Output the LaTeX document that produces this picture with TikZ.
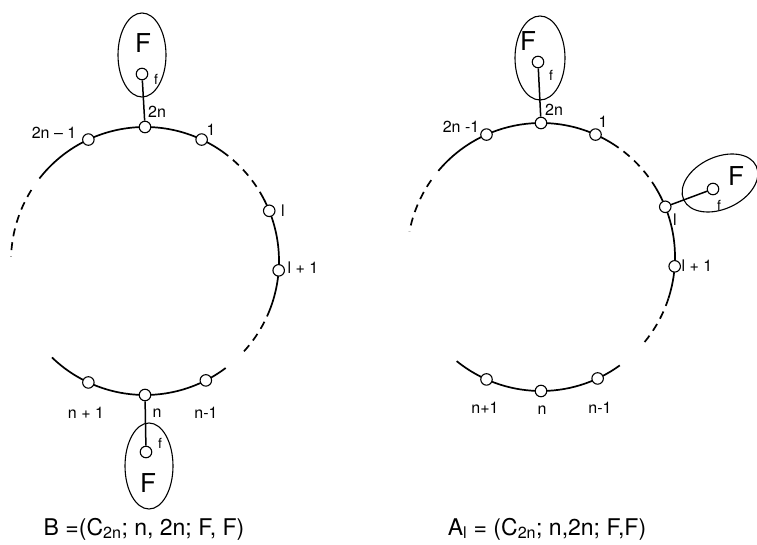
\documentclass[tikz,border=0pt]{standalone}
\usepackage{fontspec}
\setmainfont{TeX Gyre Heros}
\usetikzlibrary{shapes.geometric}
\tikzset{
  ring/.style={line width=1.7pt},
  dring/.style={line width=1.7pt, dash pattern=on 8pt off 6pt},
  vtx/.style={circle, draw, fill=white, line width=1.1pt, minimum size=11.5pt, inner sep=0pt},
  link/.style={line width=1.5pt},
  blob/.style={ellipse, draw, line width=1.1pt, inner sep=0pt},
  lab/.style={font=\fontsize{16}{18}\selectfont, inner sep=0pt},
  bigF/.style={font=\fontsize{26}{28}\selectfont, inner sep=0pt},
  smallf/.style={font=\fontsize{14}{16}\selectfont, inner sep=0pt},
  capt/.style={font=\fontsize{23}{25}\selectfont, inner sep=0pt}
}
\begin{document}
\begin{tikzpicture}[x=1pt,y=-1pt]
\useasboundingbox[fill=white] (0,0) rectangle (757,545);
% ===== left diagram =====
\coordinate (CL) at (145,261);
\draw[ring] ([shift={(-142:134)}]CL) arc[start angle=-142, end angle=-55, radius=134];
\draw[dring] ([shift={(-55:134)}]CL) arc[start angle=-55, end angle=-31, radius=134];
\draw[ring] ([shift={(-31:134)}]CL) arc[start angle=-31, end angle=21, radius=134];
\draw[dring] ([shift={(21:134)}]CL) arc[start angle=21, end angle=43, radius=134];
\draw[ring] ([shift={(53:134)}]CL) arc[start angle=53, end angle=134, radius=134];
\draw[dring] ([shift={(-148:134)}]CL) arc[start angle=-148, end angle=-178, radius=134];
\node[blob, minimum width=48pt, minimum height=84pt] (LtopE) at (142,55) {};
\node[blob, minimum width=48pt, minimum height=86pt] (LbotE) at (149,466) {};
\node[vtx] (L2n) at ([shift={(-90:134)}]CL) {};
\node[vtx] (L1) at ([shift={(-65:134)}]CL) {};
\node[vtx] (L2nm) at ([shift={(-115:134)}]CL) {};
\node[vtx] (Ll) at ([shift={(-22:134)}]CL) {};
\node[vtx] (Llp) at ([shift={(4:134)}]CL) {};
\node[vtx] (Ln) at ([shift={(90:134)}]CL) {};
\node[vtx] (Lnp) at ([shift={(115:134)}]CL) {};
\node[vtx] (Lnm) at ([shift={(63:134)}]CL) {};
\node[vtx] (Ltf) at (142,74) {};
\node[vtx] (Lbf) at (146,452) {};
\draw[link] (Ltf) -- (L2n);
\draw[link] (Lbf) -- (Ln);
\node[bigF] (LtF) at (143,43) {F};
\node[smallf] (Ltfl) at (156,79) {f};
\node[lab] (L2nl) at (157,112) {2n};
\node[lab] (L2nml) at (54,133) {2n – 1};
\node[lab] (L1l) at (211,130) {1};
\node[lab] (Lll) at (283,211) {l};
\node[lab] (Llpl) at (303,268) {l + 1};
\node[lab] (Lnpl) at (86,413) {n + 1};
\node[lab] (Lnl) at (157,413) {n};
\node[lab] (Lnml) at (206,413) {n-1};
\node[smallf] (Lbfl) at (160,443) {f};
\node[bigF] (LbF) at (148,483) {F};
\node[capt] (Lcap) at (144,529) {B =(C\textsubscript{2n}; n, 2n; F, F)};
% ===== right diagram =====
\coordinate (CR) at (541,257);
\draw[ring] ([shift={(-140:134)}]CR) arc[start angle=-140, end angle=-58, radius=134];
\draw[dring] ([shift={(-58:134)}]CR) arc[start angle=-58, end angle=-31, radius=134];
\draw[ring] ([shift={(-31:134)}]CR) arc[start angle=-31, end angle=18, radius=134];
\draw[dring] ([shift={(18:134)}]CR) arc[start angle=18, end angle=40, radius=134];
\draw[ring] ([shift={(54:134)}]CR) arc[start angle=54, end angle=129, radius=134];
\draw[dring] ([shift={(-145:134)}]CR) arc[start angle=-145, end angle=-169, radius=134];
\node[blob, minimum width=50pt, minimum height=84pt] (RtopE) at (540,58) {};
\node[blob, minimum width=80pt, minimum height=52pt, rotate=25] (RsideE) at (720,183) {};
\node[vtx] (R2n) at ([shift={(-90:134)}]CR) {};
\node[vtx] (R1) at ([shift={(-66:134)}]CR) {};
\node[vtx] (R2nm) at ([shift={(-114:134)}]CR) {};
\node[vtx] (Rl) at ([shift={(-22:134)}]CR) {};
\node[vtx] (Rlp) at ([shift={(4:134)}]CR) {};
\node[vtx] (Rn) at ([shift={(90:134)}]CR) {};
\node[vtx] (Rnp) at ([shift={(114:134)}]CR) {};
\node[vtx] (Rnm) at ([shift={(65:134)}]CR) {};
\node[vtx] (Rtf) at (538,62) {};
\node[vtx] (Rsf) at (713,189) {};
\draw[link] (Rtf) -- (R2n);
\draw[link] (Rsf) -- (Rl);
\node[bigF] (RtF) at (528,41) {F};
\node[smallf] (Rtfl) at (551,75) {f};
\node[lab] (R2nl) at (554,110) {2n};
\node[lab] (R2nml) at (461,127) {2n -1};
\node[lab] (R1l) at (603,122) {1};
\node[lab] (Rll) at (675,220) {l};
\node[lab] (Rlpl) at (697,266) {l + 1};
\node[bigF] (RsF) at (736,176) {F};
\node[smallf] (Rsfl) at (719,205) {f};
\node[lab] (Rnpl) at (485,408) {n+1};
\node[lab] (Rnl) at (542,410) {n};
\node[lab] (Rnml) at (600,408) {n-1};
\node[capt] (Rcap) at (547,529) {A\textsubscript{l} = (C\textsubscript{2n}; n,2n; F,F)};
\end{tikzpicture}
\end{document}
